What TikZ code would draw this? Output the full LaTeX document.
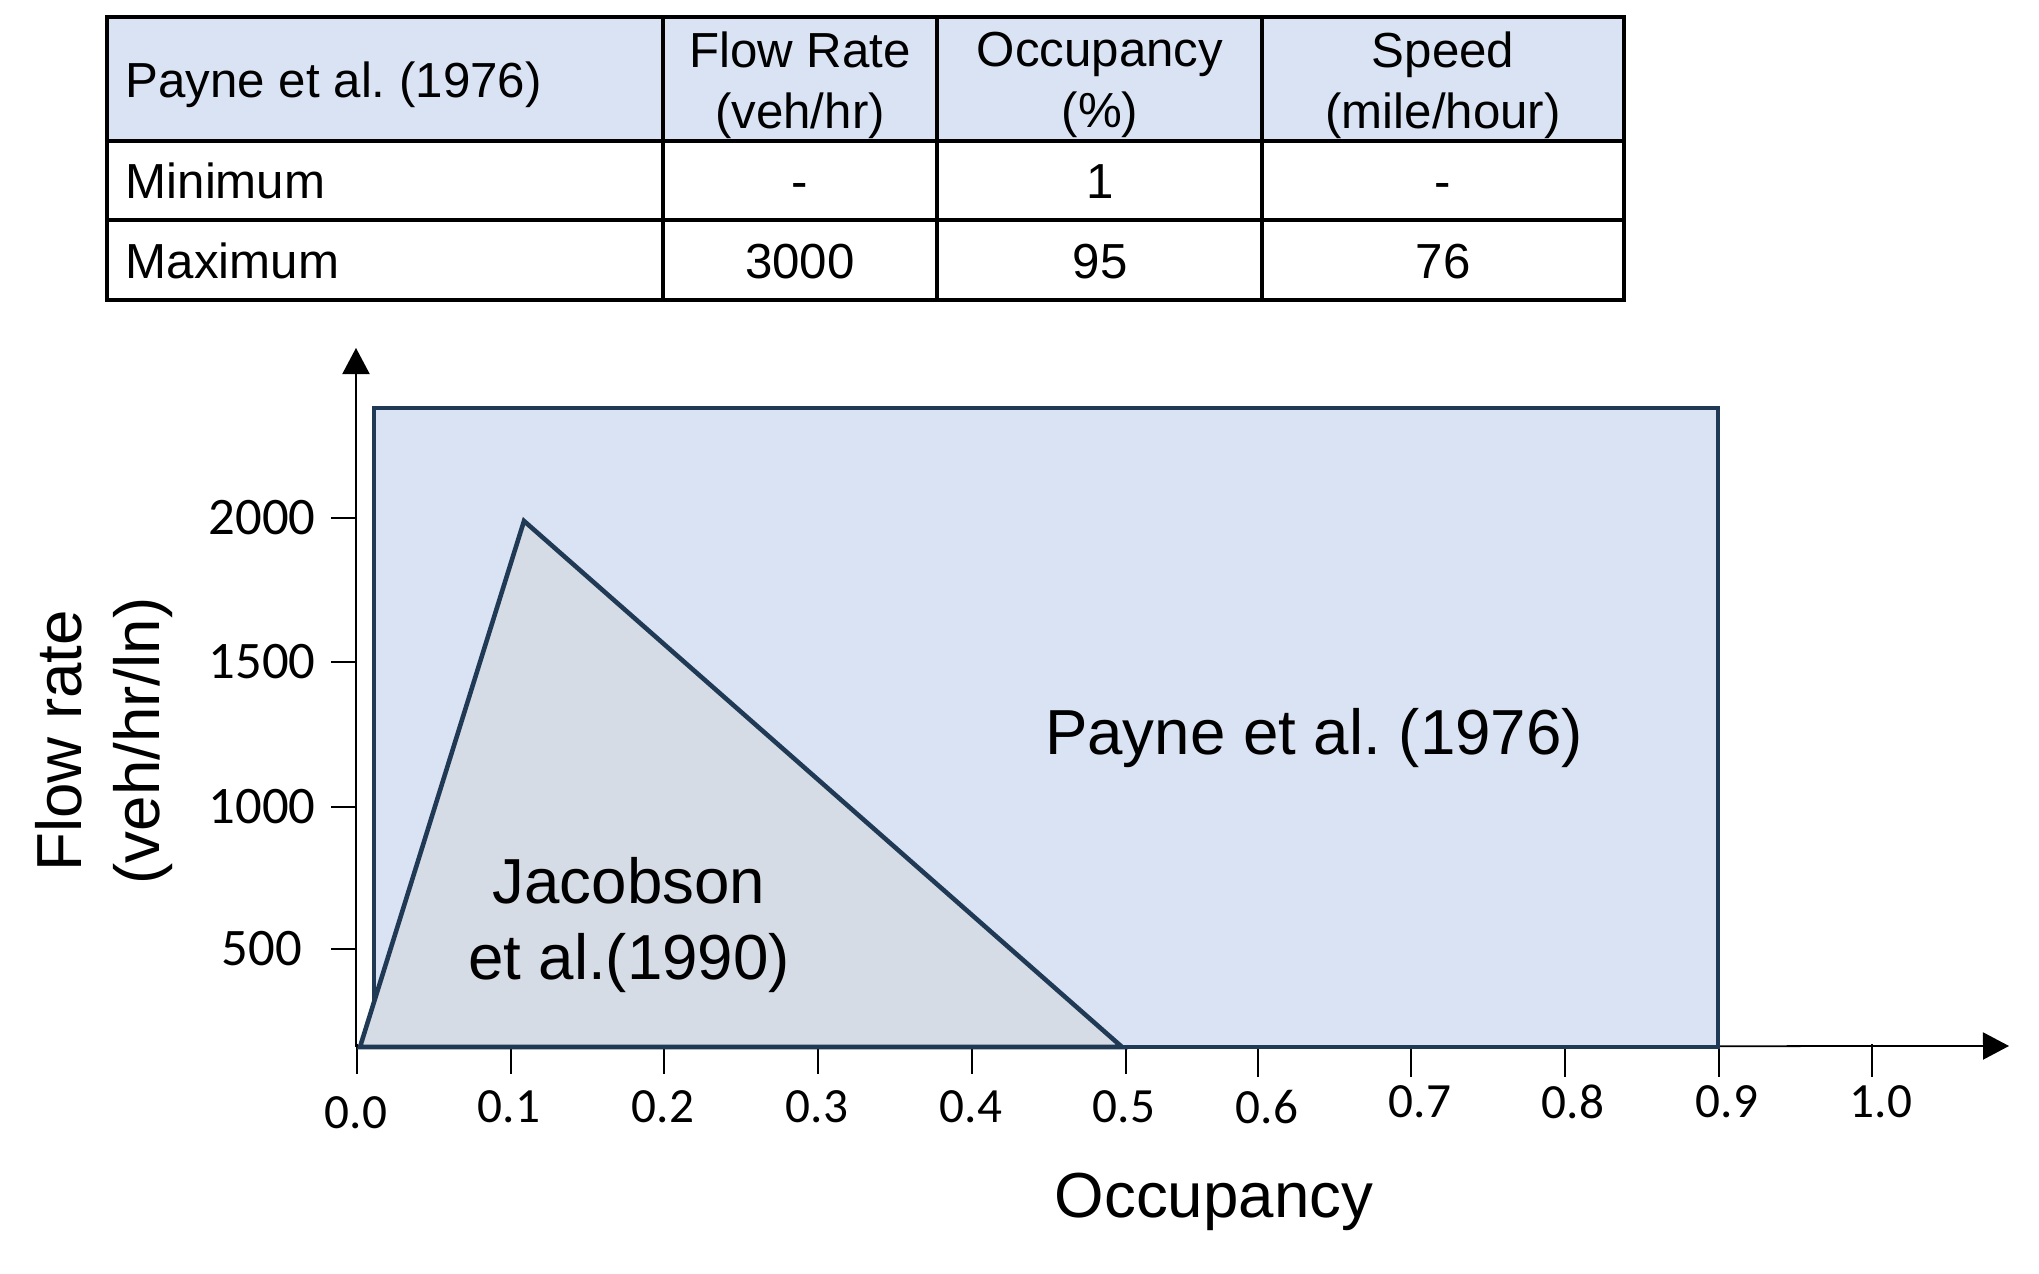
\documentclass[tikz,border=0pt]{standalone}
\usepackage{fontspec}
\setmainfont{Liberation Sans}
\newfontfamily\calibri{Carlito}
\usetikzlibrary{arrows.meta}
\usetikzlibrary{positioning}
\definecolor{paleblue}{HTML}{DAE3F3}
\definecolor{palegray}{HTML}{D6DCE5}
\definecolor{edgeblue}{HTML}{203A56}
\frenchspacing

\begin{document}
\begin{tikzpicture}[x=0.01cm,y=-0.01cm,line join=miter,
    tab/.style={line width=1.1pt},
    axis/.style={line width=0.5pt,-{Triangle[length=7.4pt,width=7.7pt]}},
    tick/.style={line width=0.4pt},
    cell/.style={font=\fontsize{14}{17.4}\selectfont,align=center,inner sep=0pt},
    big/.style={font=\fontsize{18.1}{21.6}\selectfont,align=center,inner sep=0pt},
    xnum/.style={font=\calibri\fontsize{14}{16}\selectfont,inner sep=0pt},
    ynum/.style={font=\calibri\fontsize{15}{18}\selectfont,inner sep=0pt}]
        \useasboundingbox (0,0) rectangle (2039,1274);
        % table
        \fill[paleblue] (107,17) rectangle (1624,141);
        \draw[tab] (107,17) rectangle (1624,300);
        \draw[tab] (107,141) -- (1624,141);
        \draw[tab] (107,220) -- (1624,220);
        \draw[tab] (663,17) -- (663,300);
        \draw[tab] (937,17) -- (937,300);
        \draw[tab] (1262,17) -- (1262,300);
        \node[cell,anchor=west] (payneHdr) at (125,85) {Payne et al. (1976)};
        \node[cell] (flowHdr) at (800,85) {Flow Rate\\(veh/hr)};
        \node[cell] (occHdr) at (1100,85) {Occupancy\\(\%)};
        \node[cell] (speedHdr) at (1443,85) {Speed\\(mile/hour)};
        % 
        \node[cell,anchor=base west] (minLbl) at (125,199) {Minimum};
        \node[cell,anchor=base] (minFlow) at (800,199) {-};
        \node[cell,anchor=base] (minOcc) at (1100,199) {1};
        \node[cell,anchor=base] (minSpeed) at (1443,199) {-};
        % 
        \node[cell,anchor=base west] (maxLbl) at (125,279) {Maximum};
        \node[cell,anchor=base] (maxFlow) at (800,279) {3000};
        \node[cell,anchor=base] (maxOcc) at (1100,279) {95};
        \node[cell,anchor=base] (maxSpeed) at (1443,279) {76};
        % axes
        \coordinate (origin) at (356,1047);
        \coordinate (ytip) at (356,348);
        \coordinate (xtip) at (2009,1046);
        \draw[axis] (origin) -- (ytip);
        \draw[axis] (origin) -- (xtip);
        % 
        \draw[tick] (331,518) -- (356,518);
        \draw[tick] (331,662) -- (356,662);
        \draw[tick] (331,807) -- (356,807);
        \draw[tick] (331,949) -- (356,949);
        \node[ynum] (y2000) at (262,518) {2000};
        \node[ynum] (y1500) at (262,662) {1500};
        \node[ynum] (y1000) at (262,807) {1000};
        \node[ynum] (y500) at (262,949) {500};
        % 
        \draw[tick] (357,1044) -- (357,1074);
        \draw[tick] (511,1044) -- (511,1074);
        \draw[tick] (664,1044) -- (664,1074);
        \draw[tick] (818,1044) -- (818,1074);
        \draw[tick] (972,1044) -- (972,1074);
        \draw[tick] (1126,1044) -- (1126,1074);
        \draw[tick] (1258,1044) -- (1258,1077);
        \draw[tick] (1411,1044) -- (1411,1077);
        \draw[tick] (1565,1044) -- (1565,1077);
        \draw[tick] (1719,1044) -- (1719,1077);
        \draw[tick] (1872,1044) -- (1872,1077);
        \node[xnum] (x00) at (356,1113) {0.0};
        \node[xnum] (x01) at (509,1107) {0.1};
        \node[xnum] (x02) at (663,1107) {0.2};
        \node[xnum] (x03) at (817,1107) {0.3};
        \node[xnum] (x04) at (971,1107) {0.4};
        \node[xnum] (x05) at (1124,1107) {0.5};
        \node[xnum] (x06) at (1267,1107) {0.6};
        \node[xnum] (x07) at (1420,1102) {0.7};
        \node[xnum] (x08) at (1573,1102) {0.8};
        \node[xnum] (x09) at (1727,1102) {0.9};
        \node[xnum] (x10) at (1881,1102) {1.0};
        % regions
        \draw[edgeblue,fill=paleblue,line width=1.4pt] (374,408) rectangle (1718,1047);
        \draw[edgeblue,fill=palegray,line width=1.3pt] (360,1047) -- (524,521) -- (1122,1047) -- cycle;
        % labels
        \node[big] (payneLbl) at (1314,738) {Payne et al. (1976)};
        \node[big] (jacobsonLbl) at (629,925) {Jacobson\\et al.(1990)};
        \node[big,anchor=base] (occLbl) at (1214,1218) {Occupancy};
        \node[big,rotate=90,font=\fontsize{18.1}{22.2}\selectfont] (flowLbl) at (104,741) {Flow rate\\(veh/hr/ln)};
\end{tikzpicture}
\end{document}
